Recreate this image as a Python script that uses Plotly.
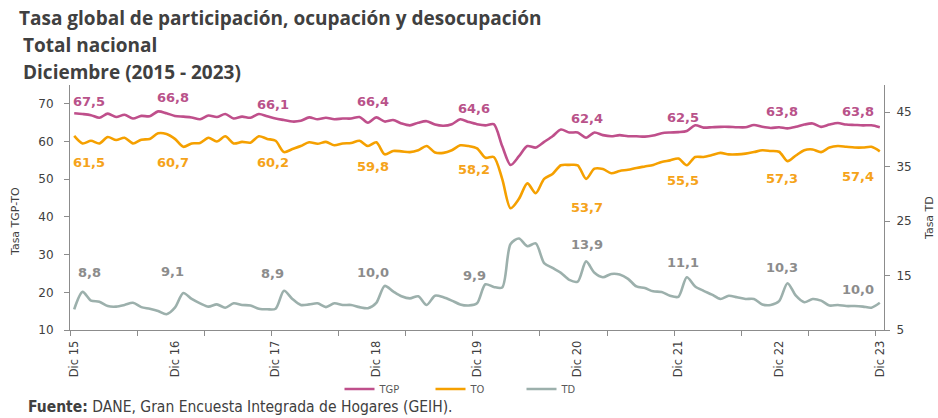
import plotly.graph_objects as go

# ---------------- data ----------------
tick_labels = ["Dic 15", "Dic 16", "Dic 17", "Dic 18", "Dic 19", "Dic 20", "Dic 21", "Dic 22", "Dic 23"]
tick_positions = [0, 12, 24, 36, 48, 60, 72, 84, 96]

tgp = [67.5, 67.3, 67.0, 66.3, 67.4, 66.5, 67.1, 66.1, 66.8, 66.7, 68.0, 67.5,
       66.8, 66.6, 66.4, 65.9, 66.9, 66.5, 67.3, 66.1, 66.6, 66.3, 67.3, 66.7,
       66.1, 65.7, 65.3, 65.5, 66.4, 65.9, 66.3, 65.9, 66.1, 66.1, 66.5, 65.0,
       66.4, 65.3, 65.7, 64.8, 64.3, 65.0, 65.4, 64.5, 64.2, 64.6, 65.9, 65.2,
       64.6, 64.3, 64.6, 58.8, 53.8, 56.1, 58.8, 58.4, 59.9, 61.4, 63.2, 62.4,
       62.4, 61.0, 62.4, 61.7, 61.4, 61.7, 61.4, 61.4, 61.3, 61.6, 62.2, 62.4,
       62.5, 62.8, 64.3, 63.7, 63.8, 63.9, 63.9, 63.8, 63.8, 64.4, 63.9, 63.6,
       63.8, 63.5, 63.9, 64.5, 64.8, 63.9, 64.5, 64.9, 64.5, 64.4, 64.3, 64.3,
       63.8]

to = [61.5, 59.5, 60.2, 59.5, 61.2, 60.4, 61.0, 59.5, 60.5, 60.7, 62.2, 62.0,
      60.7, 58.6, 59.5, 59.6, 61.0, 60.0, 61.4, 59.5, 59.9, 59.7, 61.4, 60.7,
      60.2, 57.2, 58.0, 58.8, 59.8, 59.4, 59.9, 59.0, 59.5, 59.6, 60.2, 58.8,
      59.8, 56.6, 57.5, 57.4, 57.2, 57.7, 58.8, 57.1, 57.0, 57.7, 59.0, 58.8,
      58.2, 55.7, 55.9, 50.1, 42.3, 44.8, 48.9, 46.3, 50.1, 51.4, 53.7, 53.8,
      53.7, 50.1, 52.8, 52.7, 51.6, 52.2, 52.5, 53.0, 53.4, 53.8, 54.6, 55.0,
      55.5, 53.7, 55.9, 55.9, 56.4, 57.0, 56.6, 56.6, 56.8, 57.2, 57.7, 57.5,
      57.3, 54.8, 56.3, 57.7, 57.9, 57.2, 58.4, 58.8, 58.6, 58.4, 58.4, 58.6,
      57.4]

td = [8.8, 12.0, 10.4, 10.2, 9.4, 9.3, 9.6, 10.0, 9.2, 8.9, 8.5, 7.9,
      9.1, 11.8, 10.7, 9.9, 9.3, 9.7, 9.1, 9.9, 9.6, 9.5, 8.9, 8.8,
      8.9, 12.2, 10.7, 9.6, 9.7, 9.9, 9.2, 9.9, 9.6, 9.6, 9.2, 9.0,
      10.0, 13.1, 12.1, 11.2, 10.8, 11.2, 9.6, 11.3, 11.0, 10.4, 9.7, 9.5,
      9.9, 13.4, 12.9, 12.8, 20.8, 21.8, 20.4, 20.9, 17.3, 16.4, 15.5, 14.2,
      13.9, 17.6, 15.5, 14.7, 15.3, 15.2, 14.4, 13.0, 12.7, 12.1, 12.0, 11.3,
      11.1, 14.7, 13.0, 12.2, 11.5, 10.7, 11.3, 11.0, 10.7, 10.7, 9.7, 9.6,
      10.3, 13.6, 11.3, 10.1, 10.7, 10.4, 9.5, 9.6, 9.4, 9.4, 9.3, 9.1,
      10.0]

tgp_labels = [67.5, 66.8, 66.1, 66.4, 64.6, 62.4, 62.5, 63.8, 63.8]
to_labels = [61.5, 60.7, 60.2, 59.8, 58.2, 53.7, 55.5, 57.3, 57.4]
td_labels = [8.8, 9.1, 8.9, 10.0, 9.9, 13.9, 11.1, 10.3, 10.0]

months = list(range(len(tgp)))

# ---------------- styles ----------------
C_TGP = "#BF4F8B"
C_TO = "#F5A000"
C_TD = "#9CB0AC"
C_TGP_LBL = "#B9528A"
C_TO_LBL = "#F5A31A"
C_TD_LBL = "#8C8C8C"
AXIS_C = "#8C8C8C"
TXT_C = "#404040"
NARROW = "Liberation Sans Narrow, DejaVu Sans Condensed, Arial Narrow"

PLOT_L, PLOT_R, PLOT_T, PLOT_B = 70, 884, 85, 330
W, H = 938, 418


def px_x(px):
    return (px - PLOT_L) / (PLOT_R - PLOT_L)


def px_y(py):
    return (PLOT_B - py) / (PLOT_B - PLOT_T)


def fmt(v):
    return f"{v:.1f}".replace(".", ",")


label_dx = [15, -2, -3, -3, -3, 9, 5, 3, -22]
tgp_dy = [12, 18, 14, 16, 16, 14, 15, 16, 16]
to_dy = [-27, -24, -22, -24, -21, -42, -22, -27, -25]
td_dy = [37, 36, 35, 30, 28, 37, 34, 34, 13]

fig = go.Figure()
line_kw = dict(shape="spline", smoothing=0.8, width=2.6)
fig.add_trace(go.Scatter(x=months, y=tgp, name="TGP", mode="lines",
                         line=dict(color=C_TGP, **line_kw), yaxis="y"))
fig.add_trace(go.Scatter(x=months, y=to, name="TO", mode="lines",
                         line=dict(color=C_TO, **line_kw), yaxis="y"))
fig.add_trace(go.Scatter(x=months, y=td, name="TD", mode="lines",
                         line=dict(color=C_TD, **line_kw), yaxis="y2"))

lbl_font = "DejaVu Sans"
for k, idx in enumerate(tick_positions):
    for vals, dys, col, yref in ((tgp_labels, tgp_dy, C_TGP_LBL, "y"),
                                 (to_labels, to_dy, C_TO_LBL, "y"),
                                 (td_labels, td_dy, C_TD_LBL, "y2")):
        fig.add_annotation(x=idx, y=vals[k], xref="x", yref=yref, text=f"<b>{fmt(vals[k])}</b>",
                           showarrow=False, xshift=label_dx[k], yshift=dys[k],
                           xanchor="center", yanchor="middle",
                           font=dict(family=lbl_font, size=13, color=col))

# titles
title_lines = ["Tasa global de participación, ocupación y desocupación",
               "Total nacional",
               "Diciembre (2015 - 2023)"]
for line, py, px in zip(title_lines, [18, 45, 72], [17, 21, 21]):
    fig.add_annotation(x=px_x(px), y=px_y(py), xref="paper", yref="paper",
                       text=f"<b>{line}</b>",
                       showarrow=False, xanchor="left", yanchor="middle",
                       font=dict(family="Open Sans", size=19, color=TXT_C))

# axis titles
fig.add_annotation(x=px_x(15), y=px_y(222), xref="paper", yref="paper", text="Tasa TGP-TO",
                   showarrow=False, textangle=-90, xanchor="center", yanchor="middle",
                   font=dict(family="DejaVu Sans", size=11, color=TXT_C))
fig.add_annotation(x=px_x(929), y=px_y(218), xref="paper", yref="paper", text="Tasa TD",
                   showarrow=False, textangle=-90, xanchor="center", yanchor="middle",
                   font=dict(family="DejaVu Sans", size=11, color=TXT_C))

# source
fig.add_annotation(x=px_x(27), y=px_y(417), xref="paper", yref="paper",
                   text="<b>Fuente:</b> DANE, Gran Encuesta Integrada de Hogares (GEIH).",
                   showarrow=False, xanchor="left", yanchor="bottom", borderpad=0,
                   font=dict(family=NARROW, size=15.5, color=TXT_C))

fig.update_layout(
    width=W, height=H,
    margin=dict(l=PLOT_L, r=W - PLOT_R, t=PLOT_T, b=H - PLOT_B),
    paper_bgcolor="white", plot_bgcolor="white",
    showlegend=True,
    legend=dict(orientation="h", x=px_x(476), y=px_y(389), xanchor="center", yanchor="middle",
                font=dict(family=NARROW, size=11, color="#595959"),
                entrywidth=46, itemwidth=30, tracegroupgap=0, bgcolor="rgba(0,0,0,0)"),
    xaxis=dict(range=[-0.5, 96.5], tickmode="array", tickvals=tick_positions, ticktext=tick_labels,
               tickangle=-90, ticks="outside", ticklen=5, tickcolor="rgba(0,0,0,0)",
               showline=True, linecolor=AXIS_C, linewidth=1, showgrid=False, zeroline=False,
               tickfont=dict(family="DejaVu Sans", size=11.5, color=TXT_C),
               minor=dict(tickmode="array", tickvals=[-0.5 + 8 * k for k in range(13)],
                          ticks="outside", ticklen=5, tickcolor=AXIS_C, showgrid=False)),
    yaxis=dict(range=[10, 75], tickmode="array", tickvals=[10, 20, 30, 40, 50, 60, 70],
               ticks="outside", ticklen=5, tickcolor=AXIS_C, showline=True, linecolor=AXIS_C,
               linewidth=1, showgrid=False, zeroline=False, ticklabelstandoff=8,
               tickfont=dict(family="DejaVu Sans", size=12, color=TXT_C)),
    yaxis2=dict(range=[5, 50], tickmode="array", tickvals=[5, 15, 25, 35, 45], overlaying="y",
                side="right", ticks="outside", ticklen=5, tickcolor=AXIS_C, showline=True,
                linecolor=AXIS_C, linewidth=1, showgrid=False, zeroline=False, ticklabelstandoff=4,
                tickfont=dict(family="DejaVu Sans", size=12, color=TXT_C)),
)

fig.write_html("out.html", config={"displayModeBar": False},
               post_script="document.body.style.margin='0';")
